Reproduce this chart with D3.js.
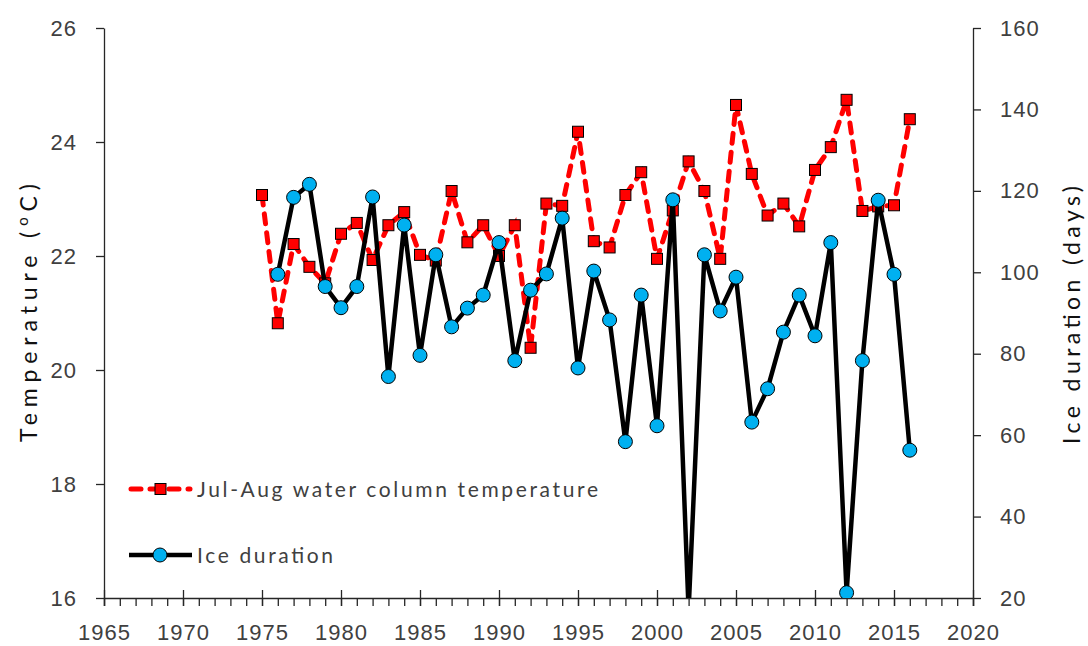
<!DOCTYPE html>
<html>
<head>
<meta charset="utf-8">
<script src="https://cdn.jsdelivr.net/npm/d3@7.9.0/dist/d3.min.js"></script>
<style>
  body { margin: 0; background: #fff; }
  svg { font-family: Lato, "Open Sans", sans-serif; }
  .tick text { fill: #404040; font-size: 22px; letter-spacing: 1px; }
  .domain, .tick line { stroke: #262626; stroke-width: 1.3; }
</style>
</head>
<body>
<svg id="chart" width="1088" height="646"></svg>
<script>
// data
const years = d3.range(1975, 2017);
const waterTemp = [23.07, 20.82, 22.21, 21.81, 21.52, 22.39, 22.58, 21.93, 22.54, 22.77,
  22.02, 21.92, 23.14, 22.24, 22.54, 22.0, 22.54, 20.39, 22.92, 22.88,
  24.18, 22.26, 22.15, 23.07, 23.47, 21.95, 22.8, 23.66, 23.14, 21.95,
  24.65, 23.44, 22.71, 22.92, 22.52, 23.51, 23.91, 24.74, 22.79, 22.87,
  22.89, 24.4];
// 1975 has no ice value
const iceDays = [null, 99.5, 118.4, 121.6, 96.5, 91.3, 96.5, 118.5, 74.4, 111.6,
  79.6, 104.3, 86.6, 91.2, 94.4, 107.3, 78.3, 95.6, 99.6, 113.3,
  76.5, 100.3, 88.3, 58.4, 94.4, 62.3, 117.8, 17, 104.3, 90.5,
  98.8, 63.2, 71.4, 85.3, 94.4, 84.4, 107.3, 21.3, 78.3, 117.7,
  99.5, 56.3];
const xTicks = d3.range(1965, 2021, 5);
const leftTicks = [16, 18, 20, 22, 24, 26];
const rightTicks = [20, 40, 60, 80, 100, 120, 140, 160];

const svg = d3.select('#chart');
const pLeft = 104, pRight = 973, pTop = 28, pBottom = 598;

const x = d3.scaleLinear().domain([1965, 2020]).range([pLeft, pRight]);
const yT = d3.scaleLinear().domain([16, 26]).range([pBottom, pTop]);
const yI = d3.scaleLinear().domain([20, 160]).range([pBottom, pTop]);

// minor year ticks
svg.append('g')
  .attr('transform', `translate(0,${pBottom})`)
  .call(d3.axisBottom(x).tickValues(d3.range(1965, 2021)).tickSize(8).tickFormat(''))
  .call(g => g.select('.domain').remove());

// major x ticks cross the axis
const xAxis = svg.append('g')
  .attr('transform', `translate(0,${pBottom})`)
  .call(d3.axisBottom(x).tickValues(xTicks).tickFormat(d3.format('d')).tickSizeOuter(0).tickSize(8).tickPadding(18));
xAxis.selectAll('.tick line').attr('y1', -8);

svg.append('g')
  .attr('transform', `translate(${pLeft},0)`)
  .call(d3.axisLeft(yT).tickValues(leftTicks).tickSize(8).tickSizeOuter(0).tickPadding(19));

svg.append('g')
  .attr('transform', `translate(${pRight},0)`)
  .call(d3.axisRight(yI).tickValues(rightTicks).tickSize(8).tickSizeOuter(0).tickPadding(19));

// axis titles
svg.append('text')
  .attr('transform', `translate(37,313) rotate(-90)`)
  .attr('text-anchor', 'middle')
  .attr('font-size', 23).attr('fill', '#111')
  .attr('textLength', 258).attr('lengthAdjust', 'spacing')
  .html('Temperature (<tspan baseline-shift="super" font-size="15">o</tspan>C)');

svg.append('text')
  .attr('transform', `translate(1080,315) rotate(-90)`)
  .attr('text-anchor', 'middle')
  .attr('font-size', 23).attr('fill', '#111')
  .attr('textLength', 258).attr('lengthAdjust', 'spacing')
  .text('Ice duration (days)');

// clip to plot area
svg.append('clipPath').attr('id', 'plot')
  .append('rect').attr('x', pLeft).attr('y', pTop)
  .attr('width', pRight - pLeft).attr('height', pBottom - pTop);

const plot = svg.append('g').attr('clip-path', 'url(#plot)');

const tempData = years.map((yr, i) => ({ yr, v: waterTemp[i] }));
const iceData = years.map((yr, i) => ({ yr, v: iceDays[i] })).filter(d => d.v !== null);

plot.append('path')
  .datum(tempData)
  .attr('fill', 'none')
  .attr('stroke', '#ff0000')
  .attr('stroke-width', 5)
  .attr('stroke-dasharray', '10,9')
  .attr('stroke-linecap', 'round')
  .attr('d', d3.line().x(d => x(d.yr)).y(d => yT(d.v)));

plot.selectAll('rect.sq')
  .data(tempData)
  .enter().append('rect')
  .attr('class', 'sq')
  .attr('x', d => x(d.yr) - 5.5).attr('y', d => yT(d.v) - 5.5)
  .attr('width', 11).attr('height', 11)
  .attr('fill', '#ff0000').attr('stroke', '#000').attr('stroke-width', 1);

plot.append('path')
  .datum(iceData)
  .attr('fill', 'none')
  .attr('stroke', '#000')
  .attr('stroke-width', 4.5)
  .attr('stroke-linejoin', 'round')
  .attr('d', d3.line().x(d => x(d.yr)).y(d => yI(d.v)));

plot.selectAll('circle.dot')
  .data(iceData)
  .enter().append('circle')
  .attr('class', 'dot')
  .attr('cx', d => x(d.yr)).attr('cy', d => yI(d.v))
  .attr('r', 7)
  .attr('fill', '#00b0f0').attr('stroke', '#000').attr('stroke-width', 1);

// legend
const leg = svg.append('g');
leg.append('line')
  .attr('x1', 131).attr('x2', 190).attr('y1', 489).attr('y2', 489)
  .attr('stroke', '#ff0000').attr('stroke-width', 5)
  .attr('stroke-dasharray', '10,9').attr('stroke-linecap', 'round');
leg.append('rect')
  .attr('x', 155).attr('y', 483.5).attr('width', 11).attr('height', 11)
  .attr('fill', '#ff0000').attr('stroke', '#000');
leg.append('text')
  .attr('x', 197).attr('y', 497).attr('font-size', 21).attr('fill', '#404040')
  .attr('textLength', 401).attr('lengthAdjust', 'spacing')
  .text('Jul-Aug water column temperature');

leg.append('line')
  .attr('x1', 129).attr('x2', 192).attr('y1', 555).attr('y2', 555)
  .attr('stroke', '#000').attr('stroke-width', 4.5);
leg.append('circle')
  .attr('cx', 160).attr('cy', 555).attr('r', 7)
  .attr('fill', '#00b0f0').attr('stroke', '#000');
leg.append('text')
  .attr('x', 197).attr('y', 563).attr('font-size', 21).attr('fill', '#404040')
  .attr('textLength', 136).attr('lengthAdjust', 'spacing')
  .text('Ice duration');
</script>
</body>
</html>
